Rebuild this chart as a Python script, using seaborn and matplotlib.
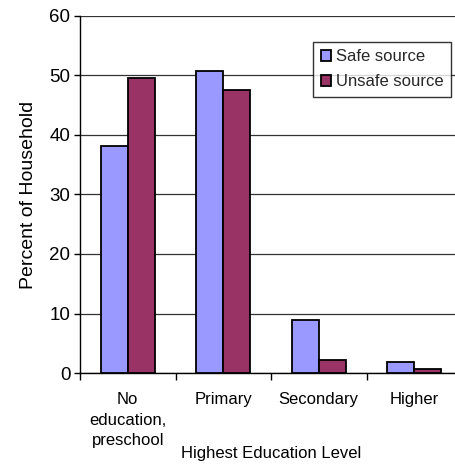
import matplotlib
matplotlib.use("Agg")
import matplotlib.pyplot as plt
import seaborn as sns
import pandas as pd
from matplotlib.ticker import FixedLocator

categories = ["No\neducation,\npreschool", "Primary", "Secondary", "Higher"]
safe_values = [38.2, 50.8, 8.9, 1.8]
unsafe_values = [49.5, 47.6, 2.2, 0.7]
series_names = ["Safe source", "Unsafe source"]
y_ticks = [0, 10, 20, 30, 40, 50, 60]

df = pd.DataFrame({
    "Education": categories * 2,
    "Percent": safe_values + unsafe_values,
    "Source": [series_names[0]] * len(categories) + [series_names[1]] * len(categories),
})

sns.set_theme(style="white")
plt.rcParams['font.family'] = ['Liberation Sans', 'DejaVu Sans']

fig = plt.figure(figsize=(4.55, 4.66), dpi=100)
ax = fig.add_axes([80 / 455, (466 - 373) / 466, 382 / 455, 357 / 466])

sns.barplot(data=df, x="Education", y="Percent", hue="Source", order=categories,
            hue_order=series_names, palette=["#9999FF", "#993366"], saturation=1,
            width=0.57, edgecolor="black", linewidth=1.3, ax=ax, zorder=3)

ax.set_ylim(0, 60)
ax.set_xlim(-0.5, 3.5)
ax.set_yticks(y_ticks)
ax.yaxis.grid(True, color="#333333", linewidth=0.9, zorder=0)
ax.xaxis.grid(False)
ax.set_axisbelow(True)

for s in ["top", "right"]:
    ax.spines[s].set_visible(False)
for s in ["left", "bottom"]:
    ax.spines[s].set_visible(True)
    ax.spines[s].set_color("black")
    ax.spines[s].set_linewidth(1.0)

ax.tick_params(axis="y", which="major", left=True, length=4, width=1, color="black",
               direction="out", pad=3, labelsize=13.5, labelcolor="black")
ax.tick_params(axis="x", which="major", bottom=False, length=0, pad=14, labelsize=12,
               labelcolor="black")
ax.xaxis.set_minor_locator(FixedLocator([-0.5, 0.5, 1.5, 2.5, 3.5]))
ax.tick_params(axis="x", which="minor", bottom=True, length=5, width=1, color="black",
               direction="out")
for lbl in ax.get_xticklabels():
    lbl.set_ha("center")
    lbl.set_multialignment("center")
    lbl.set_linespacing(1.45)

ax.set_ylabel("Percent of Household", fontsize=14, color="black", labelpad=9)
ax.set_xlabel("Highest Education Level", fontsize=12, color="black")
ax.xaxis.set_label_coords(0.5, -0.205)

leg = ax.legend(loc="upper left", bbox_to_anchor=((313 - 80) / 382, 1 - (42 - 16) / 357),
                frameon=True, fancybox=False, shadow=False, fontsize=12,
                handlelength=0.6, handleheight=0.6, handletextpad=0.3,
                borderpad=0.45, labelspacing=0.6, borderaxespad=0)
leg.get_frame().set_edgecolor("black")
leg.get_frame().set_linewidth(1.0)
leg.get_frame().set_facecolor("white")
leg.set_zorder(5)

fig.savefig("out.png", dpi=100)
